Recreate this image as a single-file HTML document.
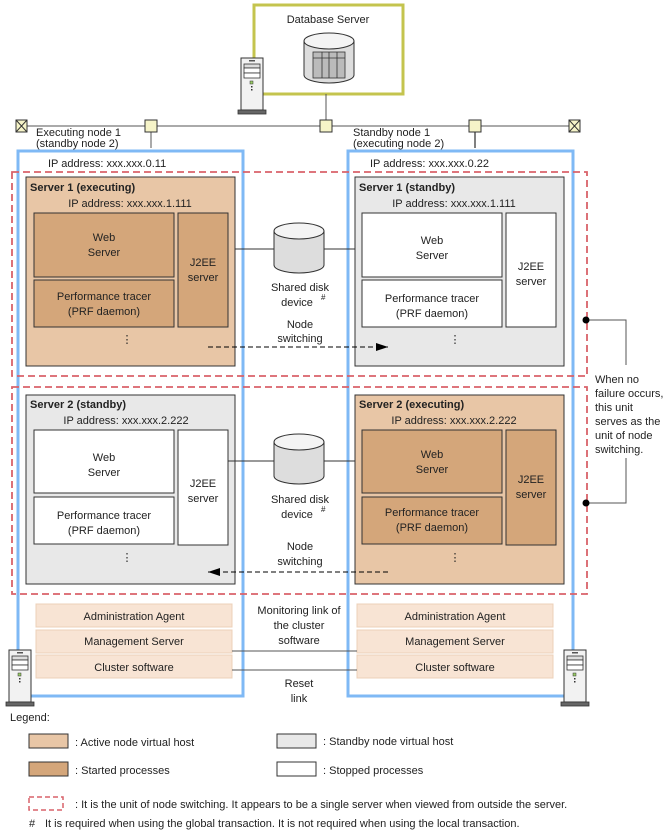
<!DOCTYPE html>
<html><head><meta charset="utf-8"><style>
html,body{margin:0;padding:0;background:#fff;}
svg{display:block;font-family:"Liberation Sans",Arial,sans-serif;font-size:11px;fill:#222;}
</style></head><body>
<svg width="667" height="836" viewBox="0 0 667 836" xmlns="http://www.w3.org/2000/svg">
<defs>
<g id="tower">
<rect x="0" y="0" width="22" height="52" fill="#f2f2f2" stroke="#333" stroke-width="1"/>
<rect x="3" y="6" width="16" height="4" fill="#ddd" stroke="#333" stroke-width="0.8"/>
<rect x="3" y="10" width="16" height="5" fill="#fff" stroke="#333" stroke-width="0.8"/>
<rect x="3" y="15" width="16" height="5" fill="#fff" stroke="#333" stroke-width="0.8"/>
<rect x="8" y="2" width="6" height="1.5" fill="#555"/>
<rect x="9" y="23" width="3" height="3" fill="#9c6" stroke="#333" stroke-width="0.5"/>
<rect x="10" y="28" width="1.5" height="1.5" fill="#333"/>
<rect x="10" y="31" width="1.5" height="1.5" fill="#333"/>
<rect x="-3" y="52" width="28" height="4" fill="#666" stroke="#333" stroke-width="0.8"/>
</g>
<g id="cyl">
<path d="M0,8 L0,42 A25,8 0 0 0 50,42 L50,8" fill="#ddd" stroke="#333"/>
<ellipse cx="25" cy="8" rx="25" ry="8" fill="#f4f4f4" stroke="#333"/>
</g>
<marker id="ar" markerWidth="12" markerHeight="8" refX="12" refY="4" orient="auto" markerUnits="userSpaceOnUse"><path d="M0,0 L12,4 L0,8z" fill="#000"/></marker>
</defs>

<!-- DB server -->
<rect x="254" y="5" width="149" height="89" fill="#fff" stroke="#c4c44e" stroke-width="3"/>
<text x="328" y="23" text-anchor="middle">Database Server</text>
<use href="#cyl" x="304" y="33"/>
<rect x="313" y="52" width="32" height="26" fill="#bbb" stroke="#333" stroke-width="0.8"/>
<line x1="313" y1="58" x2="345" y2="58" stroke="#333" stroke-width="0.8"/>
<line x1="322" y1="52" x2="322" y2="78" stroke="#333" stroke-width="0.8"/>
<line x1="329" y1="52" x2="329" y2="78" stroke="#333" stroke-width="0.8"/>
<line x1="337" y1="52" x2="337" y2="78" stroke="#333" stroke-width="0.8"/>
<use href="#tower" x="241" y="58"/>

<!-- network -->
<line x1="26" y1="126" x2="574" y2="126" stroke="#777" stroke-width="1.2"/>
<line x1="326" y1="94" x2="326" y2="126" stroke="#555"/>
<line x1="151" y1="126" x2="151" y2="148" stroke="#555"/>
<line x1="475" y1="126" x2="475" y2="148" stroke="#000"/>
<g stroke="#333" fill="#f6f4c8">
<rect x="16" y="120" width="11" height="12"/><line x1="16" y1="120" x2="27" y2="132"/><line x1="27" y1="120" x2="16" y2="132"/>
<rect x="569" y="120" width="11" height="12"/><line x1="569" y1="120" x2="580" y2="132"/><line x1="580" y1="120" x2="569" y2="132"/>
<rect x="145" y="120" width="12" height="12"/>
<rect x="320" y="120" width="12" height="12"/>
<rect x="469" y="120" width="12" height="12"/>
</g>
<text x="36" y="136">Executing node 1</text>
<text x="36" y="147">(standby node 2)</text>
<text x="353" y="136">Standby node 1</text>
<text x="353" y="147">(executing node 2)</text>

<!-- blue nodes -->
<rect x="18" y="151" width="225" height="545" fill="none" stroke="#7fb9f5" stroke-width="3"/>
<rect x="348" y="151" width="225" height="545" fill="none" stroke="#7fb9f5" stroke-width="3"/>
<text x="48" y="167">IP address: xxx.xxx.0.11</text>
<text x="370" y="167">IP address: xxx.xxx.0.22</text>

<!-- Server 1 executing -->
<rect x="26" y="177" width="209" height="189" fill="#e8c6a6" stroke="#333"/>
<text x="30" y="191" style="font-weight:bold">Server 1 (executing)</text>
<text x="130" y="207" text-anchor="middle">IP address: xxx.xxx.1.111</text>
<rect x="34" y="213" width="140" height="64" fill="#d4a67a" stroke="#333"/>
<text x="104" y="241" text-anchor="middle">Web</text><text x="104" y="256" text-anchor="middle">Server</text>
<rect x="34" y="280" width="140" height="47" fill="#d4a67a" stroke="#333"/>
<text x="104" y="300" text-anchor="middle">Performance tracer</text><text x="104" y="315" text-anchor="middle">(PRF daemon)</text>
<rect x="178" y="213" width="50" height="114" fill="#d4a67a" stroke="#333"/>
<text x="203" y="266" text-anchor="middle">J2EE</text><text x="203" y="281" text-anchor="middle">server</text>
<text x="127" y="343" text-anchor="middle">⋮</text>

<!-- Server 1 standby -->
<rect x="355" y="177" width="209" height="189" fill="#e8e8e8" stroke="#333"/>
<text x="359" y="191" style="font-weight:bold">Server 1 (standby)</text>
<text x="454" y="207" text-anchor="middle">IP address: xxx.xxx.1.111</text>
<rect x="362" y="213" width="140" height="64" fill="#fff" stroke="#333"/>
<text x="432" y="244" text-anchor="middle">Web</text><text x="432" y="259" text-anchor="middle">Server</text>
<rect x="362" y="280" width="140" height="47" fill="#fff" stroke="#333"/>
<text x="432" y="302" text-anchor="middle">Performance tracer</text><text x="432" y="317" text-anchor="middle">(PRF daemon)</text>
<rect x="506" y="213" width="50" height="114" fill="#fff" stroke="#333"/>
<text x="531" y="270" text-anchor="middle">J2EE</text><text x="531" y="285" text-anchor="middle">server</text>
<text x="455" y="343" text-anchor="middle">⋮</text>

<!-- disk 1 -->
<line x1="235" y1="249" x2="355" y2="249" stroke="#333"/>
<use href="#cyl" x="274" y="223"/>
<text x="300" y="291" text-anchor="middle">Shared disk</text>
<text x="297" y="306" text-anchor="middle">device</text><text x="321" y="300" font-size="8">#</text>
<text x="300" y="328" text-anchor="middle">Node</text>
<text x="300" y="342" text-anchor="middle">switching</text>
<line x1="208" y1="347" x2="388" y2="347" stroke="#000" stroke-dasharray="5,3" marker-end="url(#ar)"/>

<!-- Server 2 standby -->
<rect x="26" y="395" width="209" height="189" fill="#e8e8e8" stroke="#333"/>
<text x="30" y="408" style="font-weight:bold">Server 2 (standby)</text>
<text x="126" y="424" text-anchor="middle">IP address: xxx.xxx.2.222</text>
<rect x="34" y="430" width="140" height="63" fill="#fff" stroke="#333"/>
<text x="104" y="461" text-anchor="middle">Web</text><text x="104" y="476" text-anchor="middle">Server</text>
<rect x="34" y="497" width="140" height="47" fill="#fff" stroke="#333"/>
<text x="104" y="519" text-anchor="middle">Performance tracer</text><text x="104" y="534" text-anchor="middle">(PRF daemon)</text>
<rect x="178" y="430" width="50" height="115" fill="#fff" stroke="#333"/>
<text x="203" y="487" text-anchor="middle">J2EE</text><text x="203" y="502" text-anchor="middle">server</text>
<text x="127" y="561" text-anchor="middle">⋮</text>

<!-- Server 2 executing -->
<rect x="355" y="395" width="209" height="189" fill="#e8c6a6" stroke="#333"/>
<text x="359" y="408" style="font-weight:bold">Server 2 (executing)</text>
<text x="454" y="424" text-anchor="middle">IP address: xxx.xxx.2.222</text>
<rect x="362" y="430" width="140" height="63" fill="#d4a67a" stroke="#333"/>
<text x="432" y="458" text-anchor="middle">Web</text><text x="432" y="473" text-anchor="middle">Server</text>
<rect x="362" y="497" width="140" height="47" fill="#d4a67a" stroke="#333"/>
<text x="432" y="516" text-anchor="middle">Performance tracer</text><text x="432" y="531" text-anchor="middle">(PRF daemon)</text>
<rect x="506" y="430" width="50" height="115" fill="#d4a67a" stroke="#333"/>
<text x="531" y="483" text-anchor="middle">J2EE</text><text x="531" y="498" text-anchor="middle">server</text>
<text x="455" y="561" text-anchor="middle">⋮</text>

<!-- disk 2 -->
<line x1="228" y1="461" x2="355" y2="461" stroke="#333"/>
<use href="#cyl" x="274" y="434"/>
<text x="300" y="503" text-anchor="middle">Shared disk</text>
<text x="297" y="518" text-anchor="middle">device</text><text x="321" y="512" font-size="8">#</text>
<text x="300" y="550" text-anchor="middle">Node</text>
<text x="300" y="565" text-anchor="middle">switching</text>
<line x1="388" y1="572" x2="208" y2="572" stroke="#000" stroke-dasharray="5,3" marker-end="url(#ar)"/>

<!-- red dashed units -->
<rect x="12" y="172" width="575" height="204" fill="none" stroke="#d9626a" stroke-width="1.8" stroke-dasharray="7,4"/>
<rect x="12" y="387" width="575" height="207" fill="none" stroke="#d9626a" stroke-width="1.8" stroke-dasharray="7,4"/>

<!-- bracket -->
<path d="M586,320 H626 V365 M626,458 V503 H586" fill="none" stroke="#555"/>
<circle cx="586" cy="320" r="3.5" fill="#000"/>
<circle cx="586" cy="503" r="3.5" fill="#000"/>
<text x="595" y="383">When no</text>
<text x="595" y="397">failure occurs,</text>
<text x="595" y="411">this unit</text>
<text x="595" y="425">serves as the</text>
<text x="595" y="439">unit of node</text>
<text x="595" y="453">switching.</text>

<!-- bottom bars -->
<g fill="#f8e4d4" stroke="#ecd0b8">
<rect x="36" y="604" width="196" height="23"/><rect x="36" y="630" width="196" height="23"/><rect x="36" y="655" width="196" height="23"/>
<rect x="357" y="604" width="196" height="23"/><rect x="357" y="630" width="196" height="23"/><rect x="357" y="655" width="196" height="23"/>
</g>
<text x="134" y="620" text-anchor="middle">Administration Agent</text>
<text x="134" y="645" text-anchor="middle">Management Server</text>
<text x="134" y="671" text-anchor="middle">Cluster software</text>
<text x="455" y="620" text-anchor="middle">Administration Agent</text>
<text x="455" y="645" text-anchor="middle">Management Server</text>
<text x="455" y="671" text-anchor="middle">Cluster software</text>
<line x1="232" y1="651" x2="357" y2="651" stroke="#555"/>
<line x1="232" y1="670" x2="357" y2="670" stroke="#555"/>
<text x="299" y="614" text-anchor="middle">Monitoring link of</text>
<text x="299" y="629" text-anchor="middle">the cluster</text>
<text x="299" y="644" text-anchor="middle">software</text>
<text x="299" y="687" text-anchor="middle">Reset</text>
<text x="299" y="702" text-anchor="middle">link</text>
<use href="#tower" x="9" y="650"/>
<use href="#tower" x="564" y="650"/>

<!-- legend -->
<text x="10" y="721">Legend:</text>
<rect x="29" y="734" width="39" height="14" fill="#e8c6a6" stroke="#333"/>
<text x="75" y="746">: Active node virtual host</text>
<rect x="277" y="734" width="39" height="14" fill="#e8e8e8" stroke="#333"/>
<text x="323" y="745">: Standby node virtual host</text>
<rect x="29" y="762" width="39" height="14" fill="#d4a67a" stroke="#333"/>
<text x="75" y="774">: Started processes</text>
<rect x="277" y="762" width="39" height="14" fill="#fff" stroke="#333"/>
<text x="323" y="774">: Stopped processes</text>
<rect x="29" y="797" width="34" height="13" fill="none" stroke="#d9626a" stroke-width="1.5" stroke-dasharray="5,3"/>
<text x="75" y="808">: It is the unit of node switching. It appears to be a single server when viewed from outside the server.</text>
<text x="29" y="827">#</text>
<text x="45" y="827">It is required when using the global transaction. It is not required when using the local transaction.</text>
</svg>
</body></html>
